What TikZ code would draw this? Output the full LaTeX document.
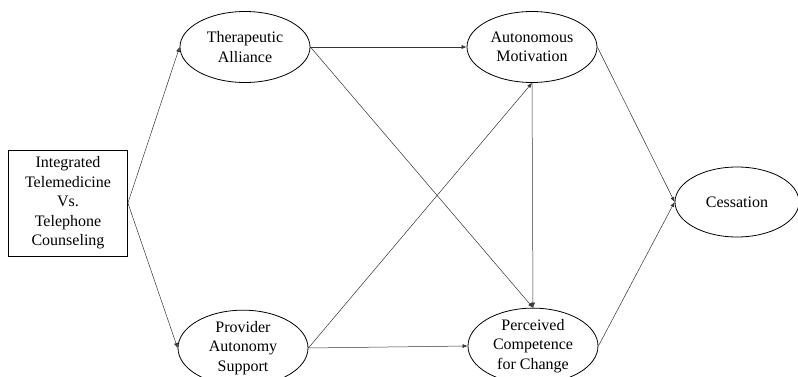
\documentclass[tikz,border=0pt]{standalone}
\usepackage{fontspec}
\setmainfont{Liberation Serif}
\usepackage{tikz}
\usetikzlibrary{arrows.meta,shapes.geometric}

\begin{document}
\begin{tikzpicture}[x=1pt, y=1pt,
  construct/.style={ellipse, draw, line width=0.8pt, minimum width=130pt, minimum height=71pt, inner sep=0pt, align=center, font=\fontsize{16}{19.5}\selectfont},
  exposure/.style={rectangle, draw, line width=0.8pt, minimum width=119pt, minimum height=106pt, inner sep=0pt, align=center, font=\fontsize{16}{19.5}\selectfont},
  path/.style={-{Latex[length=5pt, width=4pt]}, line width=0.5pt, color=black!80}]
\useasboundingbox (0,0) rectangle (798,-377);
\node[exposure] (cond) at (68,-203) {Integrated\\Telemedicine\\Vs.\\Telephone\\Counseling};
\node[construct] (alliance) at (245,-47) {Therapeutic\\Alliance};
\node[construct] (support) at (243,-348) {Provider\\Autonomy\\Support};
\node[construct] (automot) at (532,-47) {Autonomous\\Motivation};
\node[construct] (compet) at (533,-346) {Perceived\\Competence\\for Change};
\node[construct, minimum width=124pt, minimum height=70pt] (cess) at (737,-202) {Cessation};
% a-paths
\draw[path] (cond.east) -- (alliance.west);
\draw[path] (cond.east) -- (support.west);
\draw[path] (alliance.east) -- (automot.west);
\draw[path] (alliance.east) -- (compet.north);
\draw[path] (support.east) -- (automot.south);
\draw[path] (support.east) -- (compet.west);
\draw[path] (automot.south) -- (compet.north);
% b-paths
\draw[path] (automot.east) -- (cess.west);
\draw[path] (compet.east) -- (cess.west);
\end{tikzpicture}
\end{document}
